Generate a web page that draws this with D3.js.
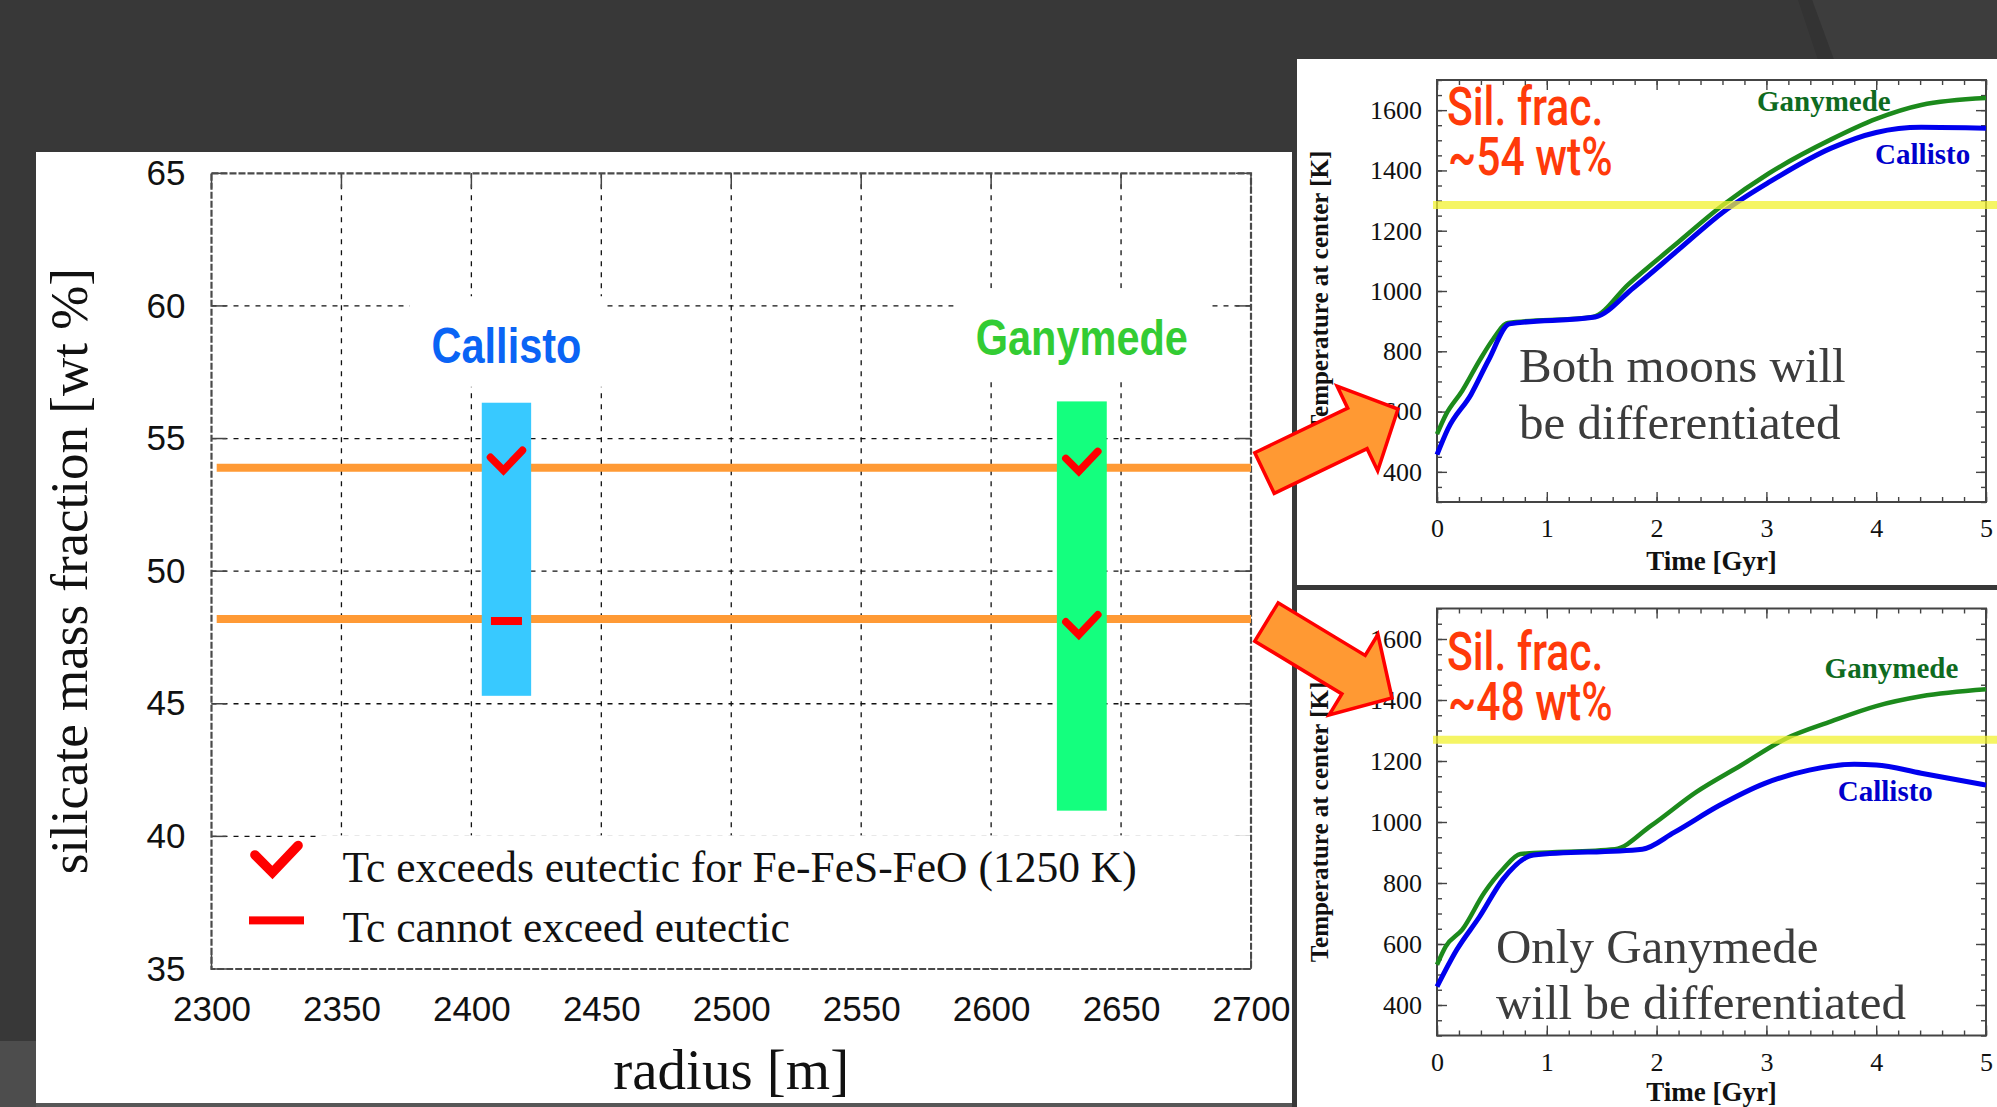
<!DOCTYPE html>
<html>
<head>
<meta charset="utf-8">
<script src="https://cdn.jsdelivr.net/npm/d3@7"></script>
<style>
    html, body { margin: 0; padding: 0; background: #383838; overflow: hidden; }
    svg { display: block; }
</style>
</head>
<body>
<script>
// ---- main chart: silicate fraction vs radius ----
const radiusTicks = [2300, 2350, 2400, 2450, 2500, 2550, 2600, 2650, 2700];
const fracTicks = [35, 40, 45, 50, 55, 60, 65];
const moonNames = ["Callisto", "Ganymede"];
const moonTextColors = ["#0a64f5", "#33cc33"];
const moonBarColors = ["#38c9ff", "#14ff7e"];
const barRadius = [[2404, 2423], [2625.3, 2644.5]];
const barFrac = [[45.3, 56.35], [40.97, 56.4]];
const labelFrac = [57.85, 58.15];
const silicateCases = [53.9, 48.2];
const markerMoon = [0, 1, 1, 0];
const markerFrac = [54.14, 54.1, 47.94, 48.12];
const markerOk = [true, true, true, false];
const legendLabels = ["Tc exceeds eutectic for Fe-FeS-FeO (1250 K)", "Tc cannot exceed eutectic"];

// ---- inset charts: central temperature vs time ----
const timeTicks = [0, 1, 2, 3, 4, 5];
const tempTicks = [400, 600, 800, 1000, 1200, 1400, 1600];

const time54G = [0, 0.08, 0.23, 0.39, 0.51, 0.645, 1.42, 1.745, 2.155, 2.607, 3.017, 3.59, 4.0, 4.41, 5.0];
const temp54G = [525, 589, 669, 771, 840, 894, 914, 1023, 1149, 1286, 1389, 1503, 1571, 1617, 1640];
const time54C = [0, 0.1, 0.31, 0.47, 0.66, 1.44, 1.79, 2.2, 2.61, 3.02, 3.59, 4.0, 4.41, 5.0];
const temp54C = [457, 543, 657, 771, 891, 914, 1011, 1137, 1263, 1360, 1474, 1526, 1543, 1540];

const time48G = [0, 0.08, 0.23, 0.43, 0.6, 0.76, 0.88, 1.62, 1.95, 2.36, 2.77, 3.18, 3.59, 4.0, 4.41, 5.0];
const temp48G = [532, 592, 647, 768, 845, 895, 898, 911, 988, 1098, 1186, 1274, 1330, 1380, 1412, 1435];
const time48C = [0, 0.18, 0.39, 0.6, 0.88, 1.87, 2.16, 2.57, 2.98, 3.39, 3.8, 4.0, 4.41, 5.0];
const temp48C = [460, 581, 691, 812, 892, 911, 966, 1054, 1126, 1170, 1189, 1187, 1160, 1121];

const eutecticDrawn = [1285, 1270];
const fracLabels = ["~54 wt%", "~48 wt%"];
const noteLines = [["Both moons will", "be differentiated"], ["Only Ganymede", "will be differentiated"]];

const W = 1997, H = 1107;
const SANS = "'Liberation Sans', Arial, sans-serif";
const SERIF = "'Liberation Serif', 'Times New Roman', serif";

const svg = d3.select("body")
    .append("svg")
    .attr("width", W)
    .attr("height", H)
    .style("background-color", "#383838");

// slide background bits
svg.append("polygon").attr("points", "1812,0 1997,0 1997,60 1834,60").attr("fill", "#3d3d3d");
svg.append("polygon").attr("points", "1798,0 1812,0 1834,60 1818,60").attr("fill", "#333333");
svg.append("rect").attr("x", 0).attr("y", 1041).attr("width", 36).attr("height", 66).attr("fill", "#4d4d4d");
svg.append("rect").attr("x", 36).attr("y", 1103).attr("width", 1256).attr("height", 4).attr("fill", "#575757");

// white panels
svg.append("rect").attr("x", 36).attr("y", 152).attr("width", 1256).attr("height", 951).attr("fill", "#fff");
svg.append("rect").attr("x", 1297).attr("y", 59).attr("width", 700).attr("height", 526).attr("fill", "#fff");
svg.append("rect").attr("x", 1297).attr("y", 590).attr("width", 700).attr("height", 517).attr("fill", "#fff");

// condensed text: regular font squeezed horizontally
function squeezed(parent, txt, px, py, sx, anchor) {
    return parent.append("text")
        .text(txt)
        .attr("transform", "translate(" + px + "," + py + ") scale(" + sx + ",1)")
        .attr("text-anchor", anchor || "start");
}

// ================= main chart =================
const plot = { left: 211.5, right: 1251, top: 173.3, bottom: 969 };
const x = d3.scaleLinear().domain([2300, 2700]).range([plot.left, plot.right]);
const y = d3.scaleLinear().domain([35, 65]).range([plot.bottom, plot.top]);

const main = svg.append("g");

// dashed grid
main.append("g")
    .selectAll("line")
    .data(radiusTicks.slice(1, -1))
    .enter()
    .append("line")
    .attr("x1", d => x(d)).attr("x2", d => x(d))
    .attr("y1", plot.top).attr("y2", plot.bottom)
    .attr("stroke", "#111").attr("stroke-width", 1.3)
    .attr("stroke-dasharray", "5,6");

main.append("g")
    .selectAll("line")
    .data(fracTicks.slice(1, -1))
    .enter()
    .append("line")
    .attr("x1", plot.left).attr("x2", plot.right)
    .attr("y1", d => y(d)).attr("y2", d => y(d))
    .attr("stroke", "#111").attr("stroke-width", 1.3)
    .attr("stroke-dasharray", "5,6");

// inward ticks
const tickG = main.append("g").attr("stroke", "#444").attr("stroke-width", 1.5);
fracTicks.forEach(v => {
    tickG.append("line").attr("x1", plot.left).attr("x2", plot.left + 15).attr("y1", y(v)).attr("y2", y(v));
    tickG.append("line").attr("x1", plot.right).attr("x2", plot.right - 15).attr("y1", y(v)).attr("y2", y(v));
});
radiusTicks.forEach(v => {
    tickG.append("line").attr("x1", x(v)).attr("x2", x(v)).attr("y1", plot.bottom).attr("y2", plot.bottom - 15);
    tickG.append("line").attr("x1", x(v)).attr("x2", x(v)).attr("y1", plot.top).attr("y2", plot.top + 15);
});

// frame
main.append("rect")
    .attr("x", plot.left).attr("y", plot.top)
    .attr("width", plot.right - plot.left).attr("height", plot.bottom - plot.top)
    .attr("fill", "none").attr("stroke", "#4a4a4a").attr("stroke-width", 2.2)
    .attr("stroke-dasharray", "7,2");

// silicate fraction cases (orange lines)
main.append("g")
    .selectAll("line")
    .data(silicateCases)
    .enter()
    .append("line")
    .attr("x1", x(2302)).attr("x2", plot.right)
    .attr("y1", d => y(d)).attr("y2", d => y(d))
    .attr("stroke", "#ff9a35").attr("stroke-width", 8);

// moon radius bars
main.append("g")
    .selectAll("rect")
    .data(moonNames)
    .enter()
    .append("rect")
    .attr("x", (d, i) => x(barRadius[i][0]))
    .attr("width", (d, i) => x(barRadius[i][1]) - x(barRadius[i][0]))
    .attr("y", (d, i) => y(barFrac[i][1]))
    .attr("height", (d, i) => y(barFrac[i][0]) - y(barFrac[i][1]))
    .attr("fill", (d, i) => moonBarColors[i]);

// moon labels with white backing
moonNames.forEach((name, i) => {
    let cx = x((barRadius[i][0] + barRadius[i][1]) / 2);
    let sx = 0.83;
    let lg = main.append("g");
    let t = squeezed(lg, name, cx, y(labelFrac[i]), sx, "middle")
        .attr("font-family", SANS)
        .attr("font-weight", "bold")
        .attr("font-size", 50)
        .attr("fill", moonTextColors[i]);
    let b = t.node().getBBox();
    lg.insert("rect", "text")
        .attr("x", cx - b.width * sx / 2 - 22).attr("y", y(labelFrac[i]) + b.y - 21)
        .attr("width", b.width * sx + 44).attr("height", b.height + 34)
        .attr("fill", "#fff");
});

function checkPath(cx, cy, s) {
    return "M" + (cx - 16 * s) + "," + (cy - 4 * s) +
        " L" + (cx - 3 * s) + "," + (cy + 9 * s) +
        " L" + (cx + 16 * s) + "," + (cy - 11 * s);
}

// markers
const markerG = main.append("g");
markerMoon.forEach((m, i) => {
    let cx = x((barRadius[m][0] + barRadius[m][1]) / 2);
    let cy = y(markerFrac[i]);
    if (markerOk[i]) {
        markerG.append("path")
            .attr("d", checkPath(cx, cy, 1))
            .attr("fill", "none").attr("stroke", "#ff0000")
            .attr("stroke-width", 7.5).attr("stroke-linecap", "round");
    } else {
        markerG.append("rect")
            .attr("x", cx - 15.5).attr("y", cy - 4)
            .attr("width", 31).attr("height", 8)
            .attr("fill", "#ff0000");
    }
});

// legend
const legendG = main.append("g");
legendG.append("rect")
    .attr("x", 320).attr("y", y(40) - 1)
    .attr("width", plot.right - 321).attr("height", plot.bottom - y(40))
    .attr("fill", "#fff");
legendLabels.forEach((label, i) => {
    let ly = y(40) + 24 + i * 60;
    if (i === 0) {
        legendG.append("path")
            .attr("d", checkPath(plot.left + 65, ly, 1.35))
            .attr("fill", "none").attr("stroke", "#ff0000")
            .attr("stroke-width", 9.5).attr("stroke-linecap", "round");
    } else {
        legendG.append("rect")
            .attr("x", plot.left + 37.5).attr("y", ly - 4)
            .attr("width", 55).attr("height", 8)
            .attr("fill", "#ff0000");
    }
    legendG.append("text")
        .text(label)
        .attr("x", plot.left + 131)
        .attr("y", ly + 22)
        .attr("font-family", SERIF)
        .attr("font-size", 43.5)
        .attr("fill", "#111");
});

// axes labels
const xAxis = main.append("g")
    .attr("transform", "translate(0," + plot.bottom + ")")
    .call(d3.axisBottom(x).tickValues(radiusTicks).tickSize(0).tickPadding(27).tickFormat(d3.format("d")));
const yAxis = main.append("g")
    .attr("transform", "translate(" + plot.left + ",0)")
    .call(d3.axisLeft(y).tickValues(fracTicks).tickSize(0).tickPadding(26).tickFormat(d3.format("d")));
[xAxis, yAxis].forEach(a => {
    a.select(".domain").remove();
    a.selectAll("text")
        .attr("font-family", SANS)
        .attr("font-size", 35)
        .attr("fill", "#111");
});

main.append("text")
    .text("radius [m]")
    .attr("x", (plot.left + plot.right) / 2)
    .attr("y", 1089)
    .attr("text-anchor", "middle")
    .attr("font-family", SERIF)
    .attr("font-size", 57)
    .attr("fill", "#111");

main.append("text")
    .text("silicate mass fraction [wt %]")
    .attr("transform", "translate(87," + ((plot.top + plot.bottom) / 2) + ") rotate(-90)")
    .attr("text-anchor", "middle")
    .attr("font-family", SERIF)
    .attr("font-size", 53)
    .attr("fill", "#111");

// ================= insets =================
const insets = [
    {
        frame: { left: 1437, right: 1986, top: 80, bottom: 502 },
        series: [[time54G, temp54G], [time54C, temp54C]],
        eutectic: eutecticDrawn[0],
        fracLabel: fracLabels[0],
        note: noteLines[0],
        // annotation anchors in data units [time, temp]
        silAt: [0.09, 1551], fracAt: [0.1, 1385],
        noteAt: [0.747, 698, 509],
        nameAt: [[2.914, 1597], [3.99, 1421]]
    },
    {
        frame: { left: 1437, right: 1986, top: 608.5, bottom: 1035.5 },
        series: [[time48G, temp48G], [time48C, temp48C]],
        eutectic: eutecticDrawn[1],
        fracLabel: fracLabels[1],
        note: noteLines[1],
        silAt: [0.09, 1498], fracAt: [0.1, 1334],
        noteAt: [0.537, 538, 354],
        nameAt: [[3.53, 1472], [3.65, 1069]]
    }
];
const lineColors = ["#1c8a1c", "#0000ee"];
const nameColors = ["#0f6b1f", "#0000cc"];
const insetNames = ["Ganymede", "Callisto"];

insets.forEach(cfg => {
    let f = cfg.frame;
    let tx = d3.scaleLinear().domain([0, 5]).range([f.left, f.right]);
    let ty = d3.scaleLinear().domain([300, 1700]).range([f.bottom, f.top]);
    let g = svg.append("g");

    // minor + major ticks on all sides
    let tickAxes = [
        [d3.axisBottom(tx).ticks(25).tickSize(-5).tickFormat(""), "translate(0," + f.bottom + ")"],
        [d3.axisTop(tx).ticks(25).tickSize(-5).tickFormat(""), "translate(0," + f.top + ")"],
        [d3.axisTop(tx).tickValues(timeTicks).tickSize(-10).tickFormat(""), "translate(0," + f.top + ")"],
        [d3.axisLeft(ty).ticks(28).tickSize(-5).tickFormat(""), "translate(" + f.left + ",0)"],
        [d3.axisRight(ty).ticks(28).tickSize(-5).tickFormat(""), "translate(" + f.right + ",0)"],
        [d3.axisRight(ty).tickValues(tempTicks).tickSize(-10).tickFormat(""), "translate(" + f.right + ",0)"]
    ];
    tickAxes.forEach(ta => {
        let a = g.append("g").attr("transform", ta[1]).call(ta[0]);
        a.select(".domain").remove();
        a.selectAll("line").attr("stroke", "#444").attr("stroke-width", 1.4);
    });

    let xa = g.append("g").attr("transform", "translate(0," + f.bottom + ")")
        .call(d3.axisBottom(tx).tickValues(timeTicks).tickSize(-10).tickPadding(17).tickFormat(d3.format("d")));
    let ya = g.append("g").attr("transform", "translate(" + f.left + ",0)")
        .call(d3.axisLeft(ty).tickValues(tempTicks).tickSize(-10).tickPadding(15).tickFormat(d3.format("d")));
    [xa, ya].forEach(a => {
        a.select(".domain").remove();
        a.selectAll("line").attr("stroke", "#444").attr("stroke-width", 1.4);
        a.selectAll("text")
            .attr("font-family", SERIF)
            .attr("font-size", 26)
            .attr("fill", "#111");
    });

    g.append("rect")
        .attr("x", f.left).attr("y", f.top)
        .attr("width", f.right - f.left).attr("height", f.bottom - f.top)
        .attr("fill", "none").attr("stroke", "#444").attr("stroke-width", 2);

    // temperature curves
    let line = d3.line()
        .x(d => tx(d[0]))
        .y(d => ty(d[1]))
        .curve(d3.curveMonotoneX);
    cfg.series.forEach((s, i) => {
        g.append("path")
            .datum(d3.zip(s[0], s[1]))
            .attr("d", line)
            .attr("fill", "none")
            .attr("stroke", lineColors[i])
            .attr("stroke-width", i === 0 ? 4.5 : 5);
    });

    // eutectic band
    g.append("line")
        .attr("x1", f.left - 4).attr("x2", W)
        .attr("y1", ty(cfg.eutectic)).attr("y2", ty(cfg.eutectic))
        .attr("stroke", "#f2f230").attr("stroke-opacity", 0.75)
        .attr("stroke-width", 8);

    // moon names
    insetNames.forEach((n, i) => {
        g.append("text")
            .text(n)
            .attr("x", tx(cfg.nameAt[i][0]))
            .attr("y", ty(cfg.nameAt[i][1]))
            .attr("font-family", SERIF)
            .attr("font-weight", "bold")
            .attr("font-size", 29)
            .attr("fill", nameColors[i]);
    });

    // silicate fraction annotation
    [["Sil. frac.", cfg.silAt], [cfg.fracLabel, cfg.fracAt]].forEach(p => {
        squeezed(g, p[0], tx(p[1][0]), ty(p[1][1]), 0.79)
            .attr("font-family", "Roboto, " + SANS)
            .attr("font-weight", 500)
            .attr("font-size", 54)
            .attr("fill", "#ff3a0a");
    });

    // note
    cfg.note.forEach((t, i) => {
        g.append("text")
            .text(t)
            .attr("x", tx(cfg.noteAt[0]))
            .attr("y", ty(cfg.noteAt[1 + i]))
            .attr("font-family", SERIF)
            .attr("font-size", 49)
            .attr("fill", "#3c3c3c");
    });

    // axis titles
    g.append("text")
        .text("Time [Gyr]")
        .attr("x", (f.left + f.right) / 2)
        .attr("y", Math.min(f.bottom + 68, H - 6))
        .attr("text-anchor", "middle")
        .attr("font-family", SERIF).attr("font-weight", "bold")
        .attr("font-size", 27).attr("fill", "#111");
    g.append("text")
        .text("Temperature at center [K]")
        .attr("transform", "translate(1328," + ((f.top + f.bottom) / 2) + ") rotate(-90)")
        .attr("text-anchor", "middle")
        .attr("font-family", SERIF).attr("font-weight", "bold")
        .attr("font-size", 25).attr("fill", "#111");
});

// ================= arrows =================
function arrowPoints(tail, tip, shaftW, headW, headL) {
    let dx = tip[0] - tail[0], dy = tip[1] - tail[1];
    let len = Math.sqrt(dx * dx + dy * dy);
    let ux = dx / len, uy = dy / len;
    let nx = -uy, ny = ux;
    let bx = tip[0] - ux * headL, by = tip[1] - uy * headL;
    let p = [
        [tail[0] + nx * shaftW / 2, tail[1] + ny * shaftW / 2],
        [bx + nx * shaftW / 2, by + ny * shaftW / 2],
        [bx + nx * headW / 2, by + ny * headW / 2],
        tip,
        [bx - nx * headW / 2, by - ny * headW / 2],
        [bx - nx * shaftW / 2, by - ny * shaftW / 2],
        [tail[0] - nx * shaftW / 2, tail[1] - ny * shaftW / 2]
    ];
    return p.map(q => q[0].toFixed(1) + "," + q[1].toFixed(1)).join(" ");
}

const arrows = [
    { tail: [1264.5, 473], tip: [1398, 409] },
    { tail: [1266.5, 622], tip: [1392, 698] }
];
svg.append("g")
    .selectAll("polygon")
    .data(arrows)
    .enter()
    .append("polygon")
    .attr("points", d => arrowPoints(d.tail, d.tip, 45, 94, 45))
    .attr("fill", "#ff9933")
    .attr("stroke", "#ff0000")
    .attr("stroke-width", 3.5)
    .attr("stroke-linejoin", "miter");
</script>
</body>
</html>
